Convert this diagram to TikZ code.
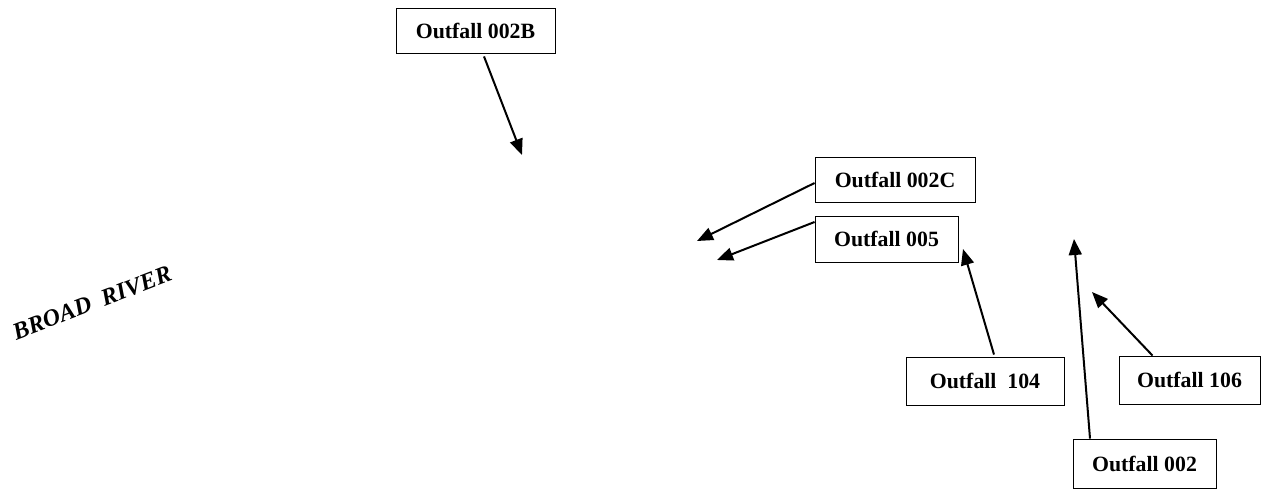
\documentclass[tikz,border=0pt]{standalone}
\usepackage{fontspec}
\setmainfont{Liberation Serif}
\usetikzlibrary{arrows.meta}
\tikzset{
  box/.style={draw=black, line width=0.9pt, inner sep=0pt, font=\fontsize{21.8}{25}\selectfont\bfseries},
  link/.style={line width=2pt, -{Triangle[length=16pt,width=13pt]}},
}
\begin{document}
\begin{tikzpicture}[x=1pt,y=1pt]
\useasboundingbox (0,0) rectangle (1265,-492);
\node[box, minimum width=159pt, minimum height=45pt] (b002B) at (475.5,-30.5) {Outfall 002B};
\node[box, minimum width=160pt, minimum height=45pt] (b002C) at (895,-179.5) {Outfall 002C};
\node[box, minimum width=143pt, minimum height=46pt] (b005) at (886.5,-239) {Outfall 005};
\node[box, minimum width=158pt, minimum height=48pt] (b104) at (985,-381) {Outfall\ \ 104};
\node[box, minimum width=141pt, minimum height=48pt] (b106) at (1189.5,-380) {Outfall 106};
\node[box, minimum width=143pt, minimum height=49pt] (b002) at (1144.5,-463.5) {Outfall 002};
\node[rotate=21, inner sep=0pt, font=\fontsize{24}{28}\selectfont\bfseries\itshape] (river) at (92,-303) {BROAD\ \ RIVER};
\coordinate (t002B) at (522,-155);
\coordinate (t002C) at (697,-241);
\coordinate (t005) at (717,-260);
\coordinate (t104) at (963,-249);
\coordinate (t002) at (1074,-239);
\coordinate (t106) at (1092,-292);
\draw[link] ([xshift=8.5pt,yshift=-3pt]b002B.south) -- (t002B);
\draw[link] ([yshift=-3.5pt]b002C.west) -- (t002C);
\draw[link] ([yshift=17pt]b005.west) -- (t005);
\draw[link] ([xshift=9pt,yshift=2pt]b104.north) -- (t104);
\draw[link] ([xshift=-54.5pt]b002.north) -- (t002);
\draw[link] ([xshift=-37pt]b106.north) -- (t106);
\end{tikzpicture}
\end{document}
